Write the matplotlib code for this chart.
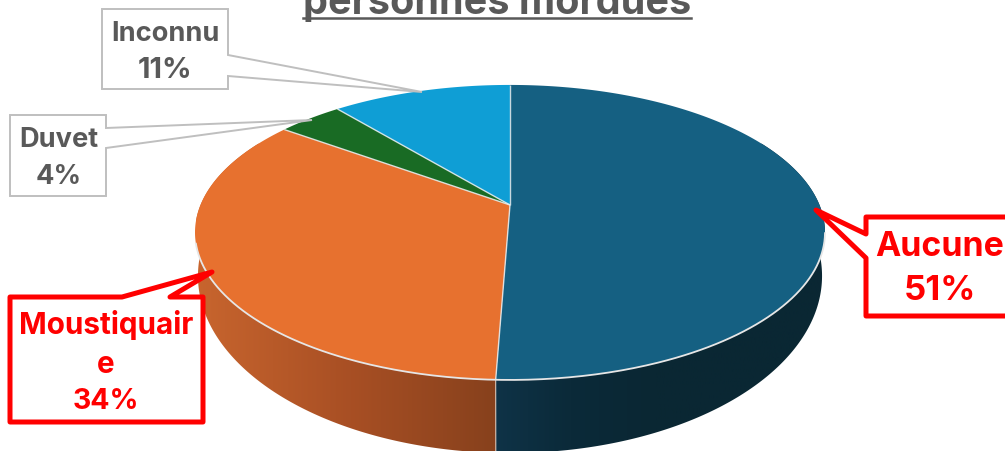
import numpy as np
import matplotlib
matplotlib.use("Agg")
import matplotlib.pyplot as plt
from matplotlib.colors import LinearSegmentedColormap
from matplotlib.patches import Polygon

# ---- data ----
categories = ["Aucune", "Moustiquaire", "Duvet", "Inconnu"]
shares = [50.6, 34.4, 4, 11]
title_text = "personnes mordues"
top_colors = ["#156082", "#E7712F", "#196B24", "#0F9ED5"]

plt.rcParams["font.family"] = ["Inter", "Open Sans", "DejaVu Sans"]
W, H = 1005, 452
fig = plt.figure(figsize=(W / 100, H / 100), dpi=100)
ax = fig.add_axes([0, 0, 1, 1])

K = 0.186


def project(theta, cx, y0, R, S):
    """Perspective view of a disc; theta runs clockwise from the back."""
    x, y = np.sin(theta), np.cos(theta)
    w = 1 + K * y
    return cx + R * x / w, y0 - S * y / w


def top(theta):
    return project(theta, 510, 205, 309.5, 142.4)


def bottom(theta):
    return project(theta, 510, 243, 306.6, 171.0)


edges = 2 * np.pi * np.concatenate([[0], np.cumsum(shares)]) / np.sum(shares)

# ---- side walls ----
wall_maps = {
    "Aucune": ["#0f3449", "#0b2a39", "#0a2733", "#0a2733", "#0a2733"],
    "Moustiquaire": ["#c8652e", "#a84f24", "#85401c"],
}
wall_ranges = {
    "Aucune": (np.radians(62), edges[1], 485, 826),
    "Moustiquaire": (edges[1], np.radians(298), 196, 505),
}
for name, (a, b, x0, x1) in wall_ranges.items():
    t = np.linspace(a, b, 200)
    tx, ty = top(t)
    bx, by = bottom(t)
    poly = Polygon(np.r_[np.c_[tx, ty], np.c_[bx, by][::-1]], closed=True,
                   transform=ax.transData, fc="none", ec="none")
    ax.add_patch(poly)
    ramp = np.linspace(0, 1, 256)[None, :]
    im = ax.imshow(ramp, extent=[x0, x1, 470, 80], aspect="auto", zorder=1,
                   cmap=LinearSegmentedColormap.from_list(name, wall_maps[name]))
    im.set_clip_path(poly)

# separator on the wall
sx = [top(edges[1])[0], bottom(edges[1])[0]]
sy = [top(edges[1])[1], bottom(edges[1])[1]]
ax.plot(sx, sy, color="#e8d8cc", lw=0.9, alpha=0.7, zorder=1.5)

# ---- top face ----
apex = top(0.0)[0], 205
for a, b, c in zip(edges[:-1], edges[1:], top_colors):
    t = np.linspace(a, b, 200)
    x, y = top(t)
    ax.fill(np.r_[apex[0], x], np.r_[apex[1], y], color=c, lw=0, zorder=2)
for e in edges[:-1]:
    x, y = top(e)
    ax.plot([apex[0], x], [apex[1], y], color="#e9eef0", lw=1.0, alpha=0.85,
            zorder=2.5, solid_capstyle="butt")
t = np.radians(np.linspace(101, 255, 300))
x, y = top(t)
ax.plot(x, y, color="#e6e6e6", lw=1.3, zorder=2.6)

# ---- title ----
ax.text(497, 13, title_text, ha="center", va="baseline", fontsize=28.5,
        fontweight="bold", color="#595959", zorder=5)
ax.plot([303, 691], [17.5, 17.5], color="#595959", lw=1.8, zorder=5)


# ---- callouts ----
def callout(pts, ec, lw):
    ax.add_patch(Polygon(pts, closed=True, fc="white", ec=ec, lw=lw,
                         joinstyle="round" if ec == "#ff0000" else "miter",
                         zorder=4, clip_on=False))


GRAY, RED = "#bfbfbf", "#ff0000"
callout([(102, 9), (228, 9), (228, 55), (422, 92), (228, 76), (228, 89), (102, 89)], GRAY, 1.4)
callout([(10, 115), (106, 115), (106, 128), (312, 120), (106, 148), (106, 196), (10, 196)], GRAY, 1.4)
callout([(10, 297), (122, 297), (212, 272), (170, 297), (203, 297), (203, 422), (10, 422)], RED, 3.6)
callout([(866, 217), (1010, 217), (1010, 316), (866, 316), (866, 258), (816, 210), (866, 234)], RED, 3.6)

pct = [f"{round(v)}%" for v in shares]
labels = [
    (categories[3], 165, 33, "#595959", 19.6),
    (pct[3], 165, 69, "#595959", 21),
    (categories[2], 59, 139, "#595959", 19.6),
    (pct[2], 59, 176, "#595959", 19.6),
    ("Moustiquair", 106, 324, RED, 21.4),
    ("e", 106, 364, RED, 21.4),
    (pct[1], 106, 401, RED, 20.5),
    (categories[0], 940, 246, RED, 24.4),
    (pct[0], 940, 290, RED, 25),
]
for s, x, y, c, fs in labels:
    ax.text(x, y, s, ha="center", va="center", color=c, fontsize=fs,
            fontweight="bold", zorder=5)

ax.set_xlim(0, W)
ax.set_ylim(H - 1, -1)
ax.axis("off")
fig.savefig("out.png", dpi=100)
